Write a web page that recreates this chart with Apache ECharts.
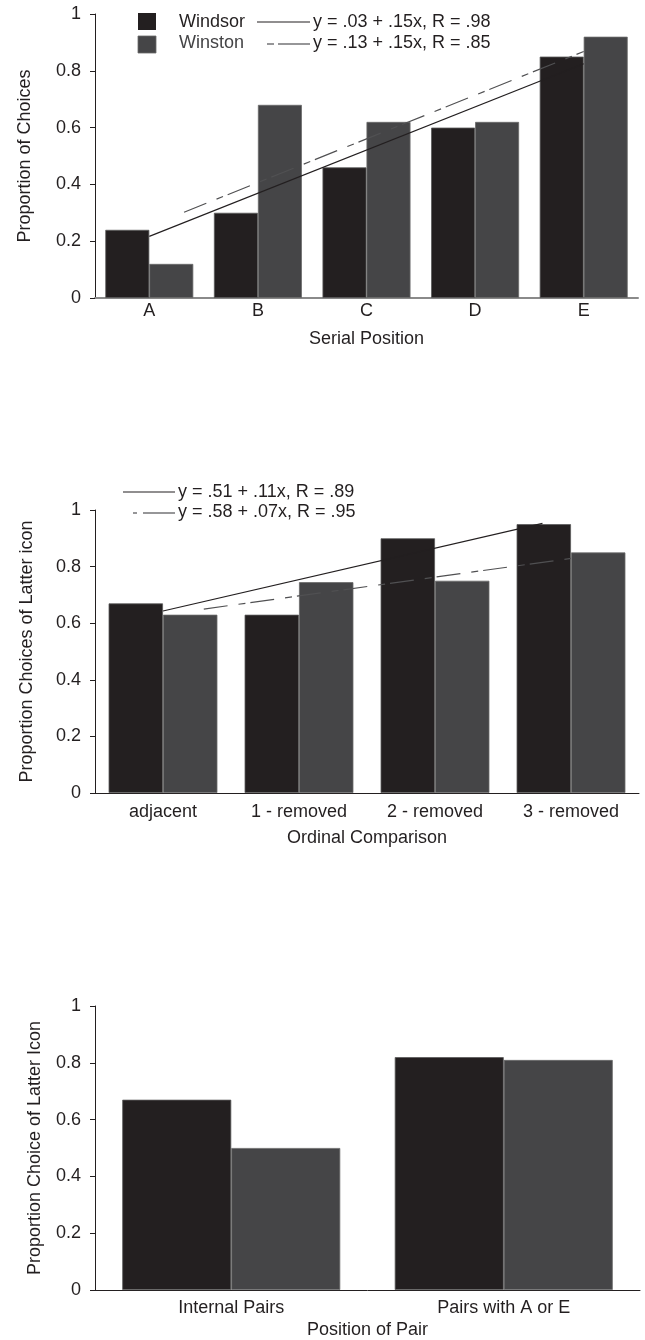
<!DOCTYPE html>
<html><head><meta charset="utf-8">
<script src="https://cdn.jsdelivr.net/npm/echarts@6/dist/echarts.min.js"></script>
<style>html,body{margin:0;padding:0;background:#fff}#c{width:645px;height:1340px}</style>
</head><body><div id="c"></div>
<script>
// ---- data ----
const serialCats = ['A', 'B', 'C', 'D', 'E'];
const serialWindsor = [0.24, 0.30, 0.46, 0.60, 0.85];
const serialWinston = [0.12, 0.68, 0.62, 0.62, 0.92];
const serialTrendWindsor = [[1, 0.217], [5, 0.825]];
const serialTrendWinston = [[1.32, 0.302], [5, 0.868]];

const ordinalCats = ['adjacent', '1 - removed', '2 - removed', '3 - removed'];
const ordinalWindsor = [0.67, 0.63, 0.90, 0.95];
const ordinalWinston = [0.63, 0.745, 0.75, 0.85];
const ordinalTrendWindsor = [[1, 0.643], [3.79, 0.953]];
const ordinalTrendWinston = [[1.3, 0.650], [4, 0.829]];

const pairCats = ['Internal Pairs', 'Pairs with A or E'];
const pairWindsor = [0.67, 0.82];
const pairWinston = [0.50, 0.81];

const legendNames = ['Windsor', 'Winston'];
const eqSerial = ['y = .03 + .15x, R = .98', 'y = .13 + .15x, R = .85'];
const eqOrdinal = ['y = .51 + .11x, R = .89', 'y = .58 + .07x, R = .95'];
const xTitles = ['Serial Position', 'Ordinal Comparison', 'Position of Pair'];
const yTitles = ['Proportion of Choices', 'Proportion Choices of Latter icon', 'Proportion Choice of Latter Icon'];

// ---- styles ----
const FONT = 'Liberation Sans, Arial, sans-serif';
const TXT = '#231f20';
const C_WINDSOR = '#231f20';
const C_WINSTON = '#454547';
const C_DASH = '#505052';

const grids = [
  {left: 95, top: 14, width: 543, height: 284},
  {left: 95, top: 510, width: 544, height: 283},
  {left: 95, top: 1006, width: 545, height: 284}
];
const cats = [serialCats, ordinalCats, pairCats];
const catGaps = ['19%', '20%', '20%'];
const xLabelMargin = [4, 10, 9];
const xNameGap = [32, 36, 31];
const yNameGap = [61, 59, 51];
const xLineColor = ['#8a8a8a', '#231f20', '#231f20'];
const xLineWidth = [2, 1, 1];

const xAxes = [], yAxes = [];
grids.forEach((g, i) => {
  xAxes.push({
    type: 'category', gridIndex: i, data: cats[i],
    axisLine: {show: true, lineStyle: {color: xLineColor[i], width: xLineWidth[i]}},
    axisTick: {show: false},
    axisLabel: {fontSize: 18, color: TXT, fontFamily: FONT, margin: xLabelMargin[i]},
    name: xTitles[i], nameLocation: 'middle', nameGap: xNameGap[i],
    nameTextStyle: {fontSize: 18, color: TXT, fontFamily: FONT}
  });
  xAxes.push({
    type: 'value', gridIndex: i, show: false, min: 0.5, max: cats[i].length + 0.5
  });
  yAxes.push({
    type: 'value', gridIndex: i, min: 0, max: 1, interval: 0.2,
    axisLine: {show: true, lineStyle: {color: '#231f20', width: 1}},
    axisTick: {show: true, length: 5, lineStyle: {color: '#231f20'}},
    splitLine: {show: false},
    axisLabel: {fontSize: 18, color: TXT, fontFamily: FONT, margin: 14},
    name: yTitles[i], nameLocation: 'middle', nameGap: yNameGap[i], nameRotate: 90,
    nameTextStyle: {fontSize: 18, color: TXT, fontFamily: FONT}
  });
});

const windsorData = [serialWindsor, ordinalWindsor, pairWindsor];
const winstonData = [serialWinston, ordinalWinston, pairWinston];
const series = [];
grids.forEach((g, i) => {
  series.push({
    type: 'bar', name: 'Windsor', xAxisIndex: 2 * i, yAxisIndex: i, data: windsorData[i],
    barGap: '0%', barCategoryGap: catGaps[i],
    itemStyle: {color: C_WINDSOR, borderColor: '#5a5a5a', borderWidth: 0.8}
  });
  series.push({
    type: 'bar', name: 'Winston', xAxisIndex: 2 * i, yAxisIndex: i, data: winstonData[i],
    barGap: '0%', barCategoryGap: catGaps[i],
    itemStyle: {color: C_WINSTON, borderColor: '#6a6a6a', borderWidth: 0.8}
  });
});
const trendSolid = [serialTrendWindsor, ordinalTrendWindsor];
const trendDashed = [serialTrendWinston, ordinalTrendWinston];
[0, 1].forEach(i => {
  series.push({
    type: 'line', xAxisIndex: 2 * i + 1, yAxisIndex: i, data: trendSolid[i],
    symbol: 'none', z: 5, silent: true,
    lineStyle: {color: '#231f20', width: 1.2}
  });
  series.push({
    type: 'line', xAxisIndex: 2 * i + 1, yAxisIndex: i, data: trendDashed[i],
    symbol: 'none', z: 5, silent: true,
    lineStyle: {color: C_DASH, width: 1.2, type: [24, 11, 7, 5]}
  });
});

const txt = (x, y, s, color) => ({
  type: 'text', x: x, y: y,
  style: {text: s, fontSize: 18, fontFamily: FONT, fill: color || TXT, verticalAlign: 'middle', align: 'left'}
});
const seg = (x1, y, x2, color) => ({
  type: 'line', shape: {x1: x1, y1: y, x2: x2, y2: y},
  style: {stroke: color, lineWidth: 1.2}
});
const graphic = [
  {type: 'rect', shape: {x: 138, y: 13, width: 18, height: 17}, style: {fill: C_WINDSOR}},
  {type: 'rect', shape: {x: 138, y: 36, width: 18, height: 17}, style: {fill: C_WINSTON, stroke: '#6a6a6a', lineWidth: 0.8}},
  txt(179, 22, legendNames[0]),
  txt(179, 43, legendNames[1], '#444446'),
  seg(257, 22, 310, '#231f20'),
  seg(267, 44, 274, C_DASH),
  seg(278, 44, 310, C_DASH),
  txt(313, 22, eqSerial[0]),
  txt(313, 43, eqSerial[1]),
  seg(123, 492, 175, '#231f20'),
  seg(133, 513, 137, C_DASH),
  seg(143, 513, 175, C_DASH),
  txt(178, 492, eqOrdinal[0]),
  txt(178, 512, eqOrdinal[1])
];

const chart = echarts.init(document.getElementById('c'), null, {renderer: 'canvas'});
chart.setOption({
  animation: false,
  backgroundColor: '#fff',
  grid: grids,
  xAxis: xAxes,
  yAxis: yAxes,
  series: series,
  graphic: graphic
});
</script></body></html>
